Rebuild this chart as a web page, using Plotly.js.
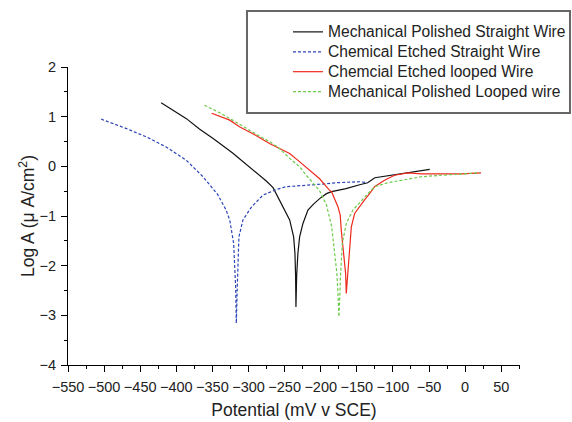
<!DOCTYPE html>
<html>
<head>
<meta charset="utf-8">
<script src="https://cdn.plot.ly/plotly-3.0.1.min.js"></script>
<style>html,body{margin:0;padding:0;background:#fff;}#chart{width:572px;height:422px;}</style>
</head>
<body>
<div id="chart"></div>
<script>
// Series names
const seriesNames = [
  "Mechanical Polished Straight Wire",
  "Chemical Etched Straight Wire",
  "Chemcial Etched looped Wire",
  "Mechanical Polished Looped wire"
];

// Mechanical Polished Straight Wire (black, solid)
const mpsX = [-421,-405,-386,-368,-349,-322,-294,-275,-266,-255,-243,-237.5,-235.7,-234.8,-234.3,-233.3,-231.6,-229.2,-224.6,-217.7,-210,-201.5,-192,-185,-165,-146,-135,-125,-107,-84,-65,-49];
const mpsY = [1.28,1.13,0.96,0.75,0.56,0.27,-0.06,-0.30,-0.43,-0.75,-1.08,-1.42,-1.75,-2.2,-2.83,-2.2,-1.75,-1.42,-1.15,-0.88,-0.76,-0.65,-0.55,-0.51,-0.45,-0.37,-0.33,-0.23,-0.19,-0.15,-0.10,-0.06];

// Chemical Etched Straight Wire (blue, dashed)
const cesX = [-504,-487,-469,-441,-414,-386,-363,-343,-331,-326,-320.6,-317.8,-316.9,-315.5,-313.3,-307.7,-296,-280,-275,-262,-248,-225,-200,-178,-160,-146,-135];
const cesY = [0.95,0.86,0.76,0.59,0.39,0.12,-0.21,-0.56,-0.88,-1.08,-1.55,-2.43,-3.16,-2.4,-1.42,-1.08,-0.82,-0.58,-0.55,-0.47,-0.41,-0.39,-0.36,-0.33,-0.32,-0.31,-0.33];

// Chemcial Etched looped Wire (red, solid)
const celX = [-351,-326,-312,-292,-271,-257,-243,-229,-215,-201.5,-188,-185,-176,-173,-171.5,-168.3,-165.5,-164.6,-162.4,-160,-157.6,-153,-143.8,-139,-132.3,-125.4,-111.6,-97.7,-79.4,-60.8,-33,-5.5,22];
const celY = [1.07,0.93,0.79,0.64,0.46,0.36,0.26,0.09,-0.08,-0.25,-0.48,-0.51,-0.82,-0.98,-1.29,-1.69,-2.16,-2.56,-2.16,-1.55,-1.22,-0.95,-0.75,-0.67,-0.55,-0.41,-0.28,-0.18,-0.13,-0.15,-0.15,-0.15,-0.13];

// Mechanical Polished Looped wire (green, dashed)
const mplX = [-361,-340,-322,-300,-285,-271,-257,-243,-229,-220,-202,-192,-188,-185,-182.2,-179.5,-177.6,-176,-174.8,-173.5,-172.9,-170.1,-164.6,-155.4,-141.5,-134.6,-125.4,-107,-84,-61,-33,-5.5,20];
const mplY = [1.23,1.08,0.93,0.73,0.61,0.50,0.36,0.16,-0.01,-0.18,-0.48,-0.78,-1.0,-1.2,-1.55,-1.9,-2.16,-2.6,-3.03,-2.6,-2.3,-1.55,-1.15,-0.88,-0.65,-0.55,-0.41,-0.33,-0.27,-0.21,-0.18,-0.16,-0.13];

// Axis ticks
const xTickVals = [-550,-500,-450,-400,-350,-300,-250,-200,-150,-100,-50,0,50];
const yTickVals = [-4,-3,-2,-1,0,1,2];

const FONT = "Liberation Sans, Arial, sans-serif";
const legName = s => '<span style="font-size:15.6px">' + s + '</span>';

const traces = [
  {x: mpsX, y: mpsY, name: legName(seriesNames[0]), mode: "lines", line: {color: "#111111", width: 1.2}},
  {x: cesX, y: cesY, name: legName(seriesNames[1]), mode: "lines", line: {color: "#2b44b8", width: 1.2, dash: "3px,2px"}},
  {x: celX, y: celY, name: legName(seriesNames[2]), mode: "lines", line: {color: "#ee2a1e", width: 1.2}},
  {x: mplX, y: mplY, name: legName(seriesNames[3]), mode: "lines", line: {color: "#6ccb4a", width: 1.2, dash: "3px,2px"}}
];

const layout = {
  width: 572, height: 422,
  margin: {l: 68, r: 52, t: 67, b: 57, pad: 0, autoexpand: false},
  paper_bgcolor: "#ffffff", plot_bgcolor: "#ffffff",
  font: {family: FONT, size: 13, color: "#222"},
  showlegend: true,
  legend: {
    x: 0.4867, y: 1.168, xanchor: "left", yanchor: "top",
    bgcolor: "rgba(0,0,0,0)", borderwidth: 0,
    font: {family: FONT, size: 13, color: "#222"}
  },
  shapes: [{
    type: "rect", xref: "paper", yref: "paper",
    x0: 0.396, x1: 1.1106, y0: 0.846, y1: 1.188,
    line: {color: "#666", width: 2}, fillcolor: "rgba(0,0,0,0)"
  }],
  xaxis: {
    range: [-550, 76], tickmode: "array", tickvals: xTickVals, tickangle: 0,
    ticks: "outside", ticklen: 6, tickwidth: 1, tickcolor: "#000",
    ticklabelstandoff: 3,
    minor: {dtick: 25, tick0: 0, ticks: "outside", ticklen: 3, tickcolor: "#000", showgrid: false},
    showline: true, linecolor: "#000", linewidth: 1, mirror: false,
    showgrid: false, zeroline: false,
    tickfont: {family: FONT, size: 14.5, color: "#222"},
    title: {text: "Potential (mV v SCE)", font: {family: FONT, size: 17.5, color: "#222"}, standoff: 9}
  },
  yaxis: {
    range: [-4, 2], tickmode: "array", tickvals: yTickVals,
    ticks: "outside", ticklen: 6, tickwidth: 1, tickcolor: "#000",
    ticklabelstandoff: 2,
    minor: {dtick: 0.5, tick0: 0, ticks: "outside", ticklen: 3, tickcolor: "#000", showgrid: false},
    showline: true, linecolor: "#000", linewidth: 1, mirror: false,
    showgrid: false, zeroline: false,
    tickfont: {family: FONT, size: 14.5, color: "#222"},
    title: {text: "Log A (μ A/cm<sup>2</sup>)", font: {family: FONT, size: 17.5, color: "#222"}, standoff: 0}
  }
};

Plotly.newPlot("chart", traces, layout, {displayModeBar: false, staticPlot: true});
</script>
</body>
</html>
